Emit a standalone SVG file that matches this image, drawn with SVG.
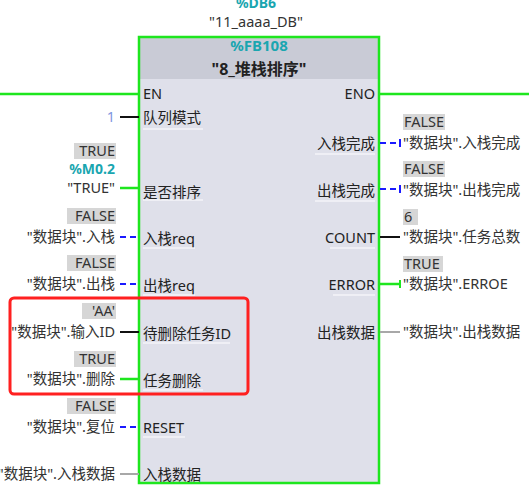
<svg xmlns="http://www.w3.org/2000/svg" width="529" height="488" viewBox="0 0 529 488">
<style>
text{font-family:"Noto Sans","Noto Sans CJK SC",sans-serif;fill:#222;}
.pin{font-size:14.5px;}
.val{font-size:14.5px;fill:#333;}
.r{text-anchor:end;}
.c{text-anchor:middle;}
.teal{fill:#1aa6b0;font-weight:bold;}
.vbox{fill:#d6d6d6;}
.g{stroke:#1ee61e;stroke-width:2.5;fill:none;}
.b{stroke:#1a1aff;stroke-width:2;stroke-dasharray:6,4;fill:none;}
.k{stroke:#111;stroke-width:2;fill:none;}
.gr{stroke:#a8a8a8;stroke-width:2;fill:none;}
.ul{stroke:#f4f4f8;stroke-width:1.5;}
</style>
<rect width="529" height="488" fill="#fff"/>
<g id="instance">
<text class="c teal" x="256" y="8" font-size="14">%DB6</text>
<text class="c val" x="256" y="27" font-size="14">"11_aaaa_DB"</text>
</g>
<g id="block">
<rect x="139" y="37" width="240" height="446" fill="#dfe0ea"/>
<rect x="139" y="37" width="240" height="42" fill="#c9cbd6"/>
<rect x="139" y="37" width="240" height="446" class="g"/>
<text class="c teal" x="259" y="51" font-size="15">%FB108</text>
<text class="c" x="259" y="75" font-size="16" font-weight="bold">"8_堆栈排序"</text>
<text class="pin" x="143" y="99" font-size="14">EN</text>
<text class="pin r" x="375" y="99" font-size="14">ENO</text>
<text class="pin" x="143" y="123">队列模式</text>
<line class="ul" x1="143" y1="129" x2="203" y2="129"/>
<text class="pin" x="143" y="198">是否排序</text>
<line class="ul" x1="143" y1="200" x2="203" y2="200"/>
<text class="pin" x="143" y="244">入栈req</text>
<line class="ul" x1="143" y1="248" x2="195" y2="248"/>
<text class="pin" x="143" y="291">出栈req</text>
<line class="ul" x1="143" y1="295" x2="195" y2="295"/>
<text class="pin" x="143" y="339">待删除任务ID</text>
<line class="ul" x1="143" y1="343" x2="230" y2="343"/>
<text class="pin" x="143" y="386">任务删除</text>
<line class="ul" x1="143" y1="390" x2="203" y2="390"/>
<text class="pin" x="143" y="433" font-size="14">RESET</text>
<line class="ul" x1="143" y1="437" x2="185" y2="437"/>
<text class="pin" x="143" y="480">入栈数据</text>
<text class="pin r" x="375" y="149">入栈完成</text>
<line class="ul" x1="315" y1="154" x2="375" y2="154"/>
<text class="pin r" x="375" y="196">出栈完成</text>
<line class="ul" x1="315" y1="201" x2="375" y2="201"/>
<text class="pin r" x="375" y="243" font-size="14">COUNT</text>
<line class="ul" x1="330" y1="248" x2="375" y2="248"/>
<text class="pin r" x="375" y="290" font-size="14">ERROR</text>
<line class="ul" x1="333" y1="295" x2="375" y2="295"/>
<text class="pin r" x="375" y="338">出栈数据</text>
</g>
<g id="connectors">
<line class="g" x1="0" y1="94" x2="139" y2="94"/>
<line class="g" x1="379" y1="94" x2="529" y2="94"/>
<line class="k" x1="120" y1="117" x2="139" y2="117"/>
<line class="g" x1="120" y1="188" x2="139" y2="188"/>
<line class="b" x1="120" y1="237" x2="139" y2="237"/>
<line class="b" x1="120" y1="284" x2="139" y2="284"/>
<line class="k" x1="120" y1="332" x2="139" y2="332"/>
<line class="g" x1="120" y1="379" x2="139" y2="379"/>
<line class="b" x1="120" y1="427" x2="139" y2="427"/>
<line class="gr" x1="120" y1="474" x2="139" y2="474"/>
<path class="b" d="M380 143H400"/><line x1="400" y1="139" x2="400" y2="147" stroke="#1a1aff" stroke-width="2"/>
<path class="b" d="M380 189H400"/><line x1="400" y1="185" x2="400" y2="193" stroke="#1a1aff" stroke-width="2"/>
<line class="k" x1="380" y1="237" x2="400" y2="237"/>
<path class="g" d="M380 284H400"/><line x1="400" y1="280" x2="400" y2="288" stroke="#1ee61e" stroke-width="2"/>
<line class="gr" x1="380" y1="332" x2="400" y2="332"/>
</g>
<g id="inputs">
<text x="115" y="122" class="r" font-size="14.5" style="fill:#7f95e0">1</text>
<rect class="vbox" x="74" y="143" width="42" height="16"/>
<text class="val r" x="115" y="156" font-size="14">TRUE</text>
<text class="r teal" x="115" y="174" font-size="14">%M0.2</text>
<text class="val r" x="115" y="193">"TRUE"</text>
<rect class="vbox" x="67" y="208" width="49" height="16"/>
<text class="val r" x="115" y="221">FALSE</text>
<text class="val r" x="115" y="242">"数据块".入栈</text>
<rect class="vbox" x="67" y="255" width="49" height="16"/>
<text class="val r" x="115" y="268">FALSE</text>
<text class="val r" x="115" y="289">"数据块".出栈</text>
<rect class="vbox" x="82" y="303" width="34" height="16"/>
<text class="val r" x="115" y="316">'AA'</text>
<text class="val r" x="115" y="337">"数据块".输入ID</text>
<rect class="vbox" x="74" y="351" width="42" height="16"/>
<text class="val r" x="115" y="364">TRUE</text>
<text class="val r" x="115" y="384">"数据块".删除</text>
<rect class="vbox" x="67" y="398" width="49" height="16"/>
<text class="val r" x="115" y="411">FALSE</text>
<text class="val r" x="115" y="432">"数据块".复位</text>
<text class="val r" x="115" y="479">"数据块".入栈数据</text>
</g>
<g id="outputs">
<rect class="vbox" x="403" y="114" width="42" height="16"/>
<text class="val" x="404" y="127">FALSE</text>
<text class="val" x="403" y="148">"数据块".入栈完成</text>
<rect class="vbox" x="403" y="161" width="42" height="16"/>
<text class="val" x="404" y="174">FALSE</text>
<text class="val" x="403" y="195">"数据块".出栈完成</text>
<rect class="vbox" x="403" y="209" width="15" height="16"/>
<text class="val" x="404" y="222">6</text>
<text class="val" x="403" y="242">"数据块".任务总数</text>
<rect class="vbox" x="403" y="256" width="40" height="16"/>
<text class="val" x="404" y="269">TRUE</text>
<text class="val" x="403" y="289">"数据块".ERROE</text>
<text class="val" x="403" y="337">"数据块".出栈数据</text>
</g>
<g id="highlight">
<rect x="10" y="298" width="238" height="96" rx="4" fill="none" stroke="#ff2020" stroke-width="3"/>
</g>
</svg>
